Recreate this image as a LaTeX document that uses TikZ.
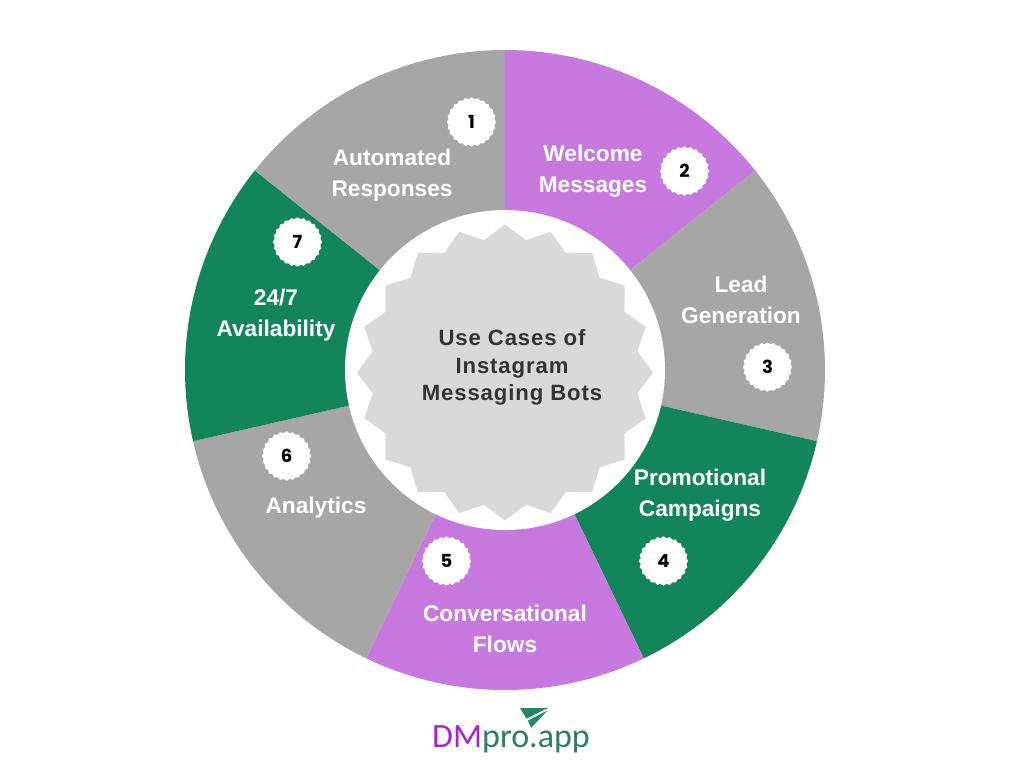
\documentclass[tikz,border=0pt]{standalone}
\usepackage{fontspec}
\setmainfont{Liberation Sans}
\newfontfamily\logofont{Carlito}
\newfontfamily\digitfont{Poppins}
\newfontfamily\hubfont[LetterSpace=4]{Liberation Sans}
\usetikzlibrary{shapes.geometric,calc}
\definecolor{seggray}{HTML}{A6A6A6}
\definecolor{segpurple}{HTML}{C879DF}
\definecolor{seggreen}{HTML}{12855B}
\definecolor{hubgray}{HTML}{D9D9D9}
\definecolor{hubtext}{HTML}{333333}
\definecolor{logopurple}{HTML}{A524CF}
\definecolor{logogreen}{HTML}{2B7F62}
\definecolor{planegreen}{HTML}{1E8A62}
\tikzset{
  x=0.75pt,y=-0.75pt,
  seglabel/.style={text=white,font=\fontsize{17}{23.25}\selectfont\bfseries,align=center,inner sep=0pt},
  badge/.style={star,star points=24,star point ratio=1.07,fill=white,minimum size=37pt,inner sep=0pt,text=black,font=\digitfont\fontsize{13.5}{14}\selectfont\bfseries},
  hub/.style={star,star points=20,star point ratio=1.105,fill=hubgray,minimum size=222pt,inner sep=0pt},
  hubtitle/.style={text=hubtext,font=\hubfont\fontsize{16.6}{20.7}\selectfont\bfseries,align=center,inner sep=0pt},
}
\newcommand{\wedgeseg}[3]{\fill[#1] (505,370) -- ($(505,370)+(#2:240pt)$) arc[start angle=#2,end angle=#3,radius=240pt] -- cycle;}
\begin{document}
\begin{tikzpicture}
\useasboundingbox (0,0) rectangle (1024,768);
\fill[white] (0,0) rectangle (1024,768);
\wedgeseg{segpurple}{38.571}{90}
\wedgeseg{seggray}{-12.857}{38.571}
\wedgeseg{seggreen}{-64.286}{-12.857}
\wedgeseg{segpurple}{-115.714}{-64.286}
\wedgeseg{seggray}{-167.143}{-115.714}
\wedgeseg{seggreen}{141.429}{192.857}
\wedgeseg{seggray}{90}{141.429}
\fill[white] (505,370) circle[radius=120pt];
\node[hub] (hub) at (505,372.5) {};
\node[hubtitle] (title) at (512,367.5) {Use Cases of\\Instagram\\Messaging Bots};
\node[seglabel] (l1) at (392,175) {Automated\\Responses};
\node[seglabel] (l2) at (593,171) {Welcome\\Messages};
\node[seglabel] (l3) at (741,299.5) {Lead\\Generation};
\node[seglabel] (l4) at (700,495) {Promotional\\Campaigns};
\node[seglabel] (l5) at (505,628.5) {Conversational\\Flows};
\node[seglabel] (l6) at (316,507.5) {Analytics};
\node[seglabel] (l7) at (276,315) {24/7\\Availability};
\node[badge] (b1) at (471.5,122) {1};
\node[badge] (b2) at (684.5,171) {2};
\node[badge] (b3) at (767.5,367) {3};
\node[badge] (b4) at (663.5,561) {4};
\node[badge] (b5) at (446.5,561) {5};
\node[badge] (b6) at (286.5,456) {6};
\node[badge] (b7) at (297.5,242) {7};
\fill[planegreen] (520,708) -- (548,708) -- (526.5,718.5) -- cycle;
\fill[planegreen] (547.5,710.5) -- (531,728) -- (528,720.5) -- cycle;
\node[inner sep=0pt,font=\logofont\fontsize{25.5}{30}\selectfont] (logo) at (511,739) {\textcolor{logopurple}{DM}\textcolor{logogreen}{pro.app}};
\end{tikzpicture}
\end{document}
